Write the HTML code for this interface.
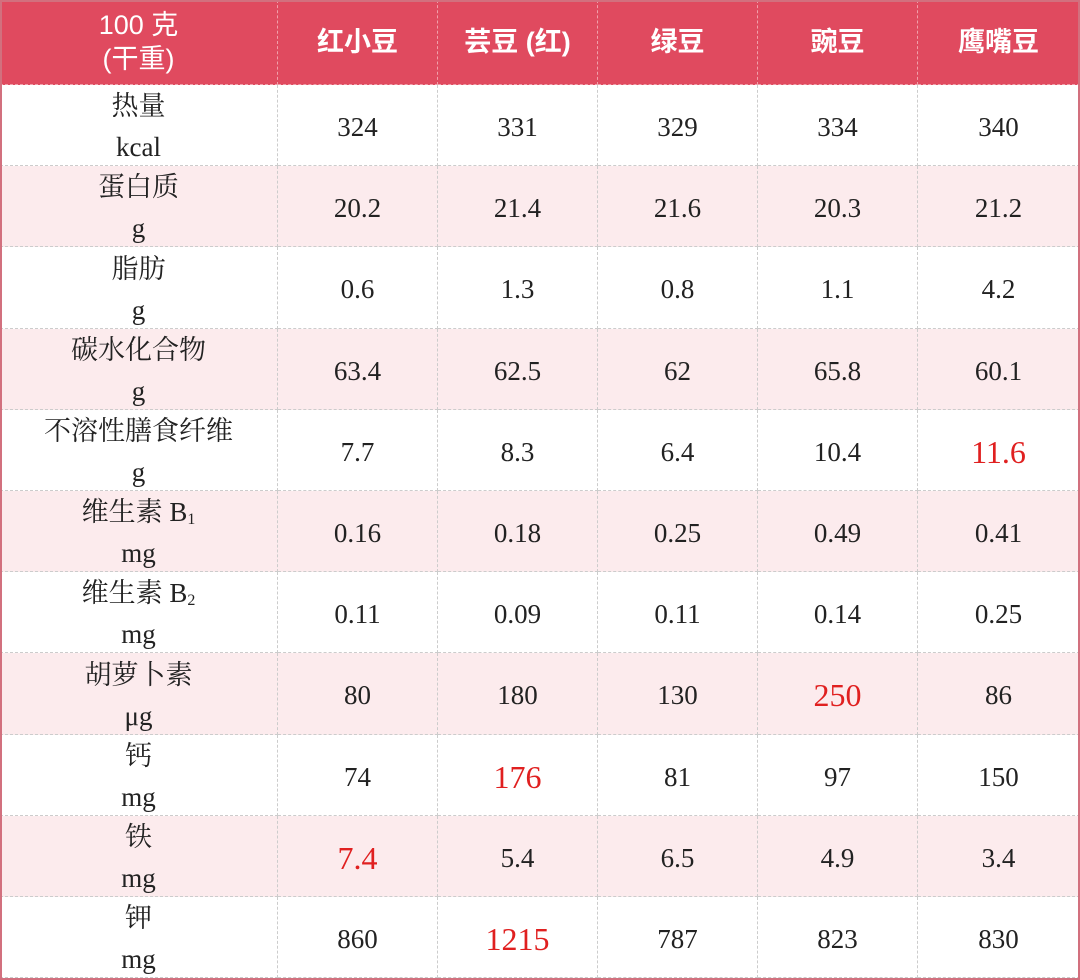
<!DOCTYPE html>
<html><head><meta charset="utf-8"><style>
body{margin:0;width:1080px;height:980px;background:#fff;overflow:hidden}
.c{position:absolute;display:flex;align-items:center;justify-content:center;text-align:center;box-sizing:border-box;border-right:1px dashed #ccc;border-bottom:1px dashed #ccc;font-family:"Liberation Serif","Noto Serif CJK SC",serif;color:#222;font-size:27px;line-height:41px;padding-top:4px}
.h{background:#e04a5f;color:#fff;font-family:"Liberation Sans","Noto Sans CJK SC",sans-serif;font-weight:bold;font-size:27px;line-height:34px;border-color:#f0a0aa;padding-top:0}
.h0{font-weight:normal}
.p{background:#fcebed}
.r{color:#e02020;font-size:32px}
.frame{position:absolute;left:0;top:0;width:1080px;height:980px;box-sizing:border-box;border:2px solid #d2707e;pointer-events:none}
sub{font-size:16px;vertical-align:-3px;line-height:0}
</style></head><body>
<div id="t"></div>
<div class="frame"></div>
<script>
var cols=[0,278,438,598,758,918,1080];
var head=["100 克<br>(干重)","红小豆","芸豆 (红)","绿豆","豌豆","鹰嘴豆"];
var rows=[
["热量<br>kcal","324","331","329","334","340"],
["蛋白质<br>g","20.2","21.4","21.6","20.3","21.2"],
["脂肪<br>g","0.6","1.3","0.8","1.1","4.2"],
["碳水化合物<br>g","63.4","62.5","62","65.8","60.1"],
["不溶性膳食纤维<br>g","7.7","8.3","6.4","10.4","*11.6"],
["维生素 B<sub>1</sub><br>mg","0.16","0.18","0.25","0.49","0.41"],
["维生素 B<sub>2</sub><br>mg","0.11","0.09","0.11","0.14","0.25"],
["胡萝卜素<br>μg","80","180","130","*250","86"],
["钙<br>mg","74","*176","81","97","150"],
["铁<br>mg","*7.4","5.4","6.5","4.9","3.4"],
["钾<br>mg","860","*1215","787","823","830"]];
var h="";
for(var j=0;j<6;j++)h+='<div class="c h'+(j==0?' h0':'')+'" style="left:'+cols[j]+'px;top:0;width:'+(cols[j+1]-cols[j])+'px;height:85px"><span>'+head[j]+'</span></div>';
for(var i=0;i<11;i++){var t=85+Math.round(i*81.2),b=85+Math.round((i+1)*81.2);
for(var j=0;j<6;j++){var v=rows[i][j],cl="c"+(i%2?" p":"");if(v[0]=="*"){v=v.slice(1);cl+=" r";}
h+='<div class="'+cl+'" style="left:'+cols[j]+'px;top:'+t+'px;width:'+(cols[j+1]-cols[j])+'px;height:'+(b-t)+'px"><span>'+v+'</span></div>';}}
document.getElementById("t").innerHTML=h;
</script>
</body></html>
